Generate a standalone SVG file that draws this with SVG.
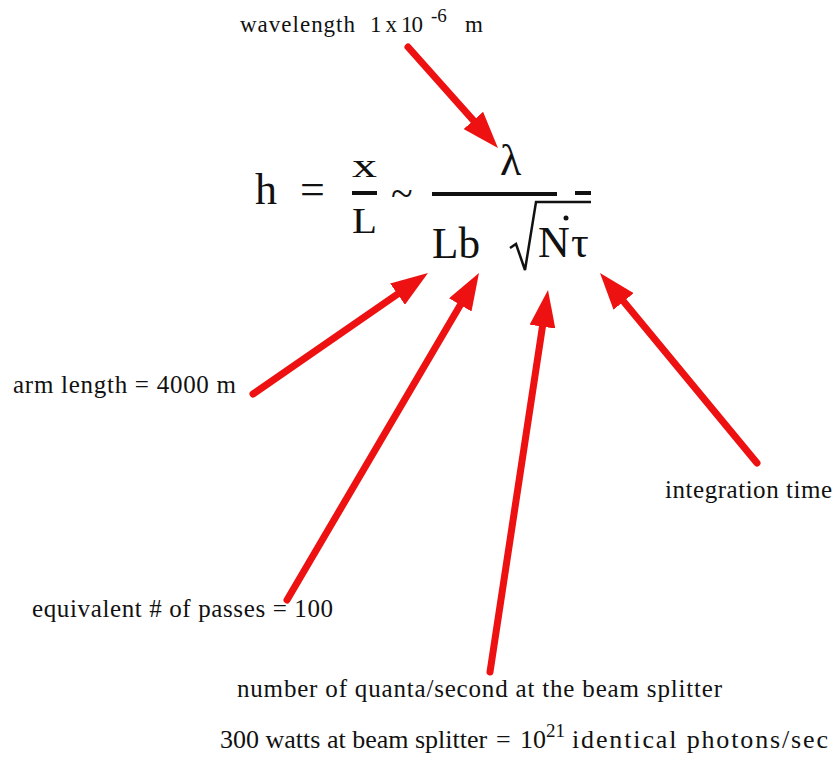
<svg xmlns="http://www.w3.org/2000/svg" width="838" height="780" viewBox="0 0 838 780">
<style>
text{font-family:"Liberation Serif","Times New Roman",serif;fill:#111}
.lbl{font-size:25px}
.eq{font-size:44px}
.arr{stroke:#ee1111;stroke-width:7;stroke-linecap:round;fill:none}
.bar{fill:#111}
</style>
<defs>
<marker id="ah" viewBox="0 0 37 26" refX="7" refY="13" markerWidth="37" markerHeight="26" markerUnits="userSpaceOnUse" orient="auto">
<path d="M0,0 L37,13 L0,26 z" fill="#ee1111"/>
</marker>
</defs>
<rect width="838" height="780" fill="#fff"/>
<g id="equation">
<text class="eq" x="255" y="204" font-size="46">h</text>
<text class="eq" x="300" y="204" font-size="46">=</text>
<text x="352" y="177" font-size="34" textLength="25" lengthAdjust="spacingAndGlyphs">x</text>
<rect class="bar" x="352" y="191" width="25" height="4"/>
<text x="352" y="233" font-size="35" textLength="25" lengthAdjust="spacingAndGlyphs">L</text>
<text x="391" y="207" font-size="40">~</text>
<text class="eq" x="500" y="175" font-size="46">λ</text>
<rect class="bar" x="432" y="192" width="125" height="4"/>
<rect class="bar" x="575" y="191" width="16" height="4"/>
<text class="eq" x="432" y="258" textLength="48" lengthAdjust="spacingAndGlyphs">Lb</text>
<path d="M510,248 L516,244 L525,270 L536,202 L591,202" stroke="#111" stroke-width="2.5" fill="none"/>
<text class="eq" x="538" y="257">N</text>
<circle cx="566" cy="218" r="2.5" fill="#111"/>
<text class="eq" x="571" y="257">τ</text>
</g>
<g id="wavelength">
<text font-size="23" x="240" y="32" textLength="115">wavelength</text>
<text font-size="23" x="370" y="32" textLength="53">1 x 10</text>
<text font-size="19" x="431" y="22">-6</text>
<text font-size="23" x="465" y="32">m</text>
</g>
<g id="arm-length"><text class="lbl" x="13" y="393" textLength="223">arm length = 4000 m</text></g>
<g id="passes"><text class="lbl" x="32" y="617" textLength="301">equivalent # of passes = 100</text></g>
<g id="integration"><text class="lbl" x="665" y="498" textLength="167">integration time</text></g>
<g id="quanta"><text class="lbl" x="237" y="697" textLength="485">number of quanta/second at the beam splitter</text></g>
<g id="watts">
<text font-size="26" x="220" y="748">300 watts at beam splitter</text>
<text font-size="26" x="496" y="748">=</text>
<text font-size="26" x="520" y="748">10</text>
<text font-size="19" x="546" y="737">21</text>
<text font-size="26" x="572" y="748" textLength="256">identical photons/sec</text>
</g>
<g id="connectors">
<line class="arr" x1="408" y1="47" x2="478" y2="125.6" marker-end="url(#ah)"/>
<line class="arr" x1="253" y1="394" x2="403.3" y2="290.1" marker-end="url(#ah)"/>
<line class="arr" x1="287" y1="600" x2="463.8" y2="298.9" marker-end="url(#ah)"/>
<line class="arr" x1="490" y1="672" x2="543.5" y2="319.7" marker-end="url(#ah)"/>
<line class="arr" x1="757" y1="463" x2="619.1" y2="296.1" marker-end="url(#ah)"/>
</g>
</svg>
